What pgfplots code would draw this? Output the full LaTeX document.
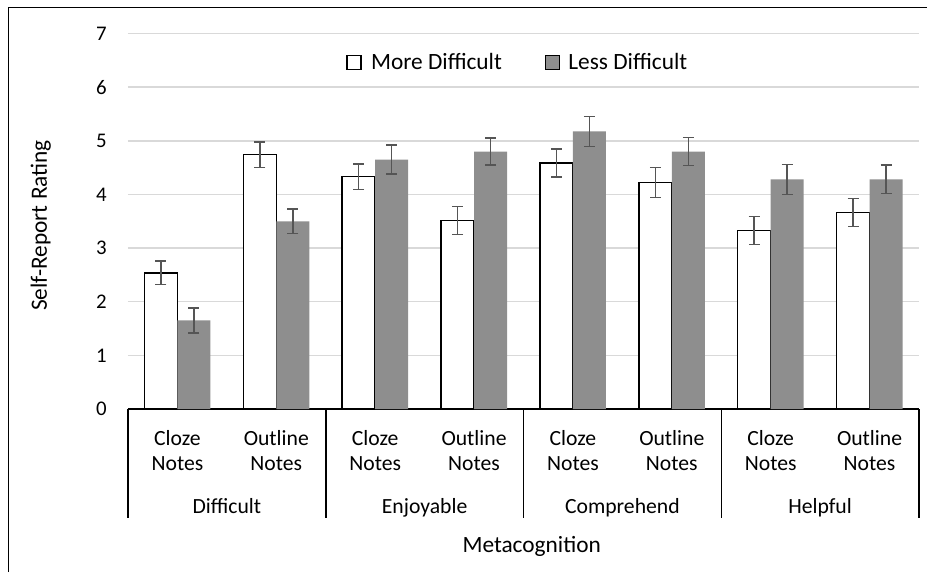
\documentclass[border=0pt]{standalone}
\usepackage{fontspec}
\setmainfont{Carlito}
\usepackage{pgfplots}
\pgfplotsset{compat=1.18}
\usetikzlibrary{calc}
\definecolor{bargray}{RGB}{142,142,142}
\definecolor{errgray}{RGB}{85,85,85}
\definecolor{gridgray}{RGB}{217,217,217}

\pgfplotstableread{
x y e
0 2.54 0.22
1 4.74 0.24
2 4.33 0.24
3 3.515 0.26
4 4.585 0.265
5 4.22 0.28
6 3.33 0.26
7 3.665 0.26
}\moredata
\pgfplotstableread{
x y e
0 1.65 0.23
1 3.50 0.23
2 4.65 0.27
3 4.80 0.25
4 5.175 0.28
5 4.80 0.26
6 4.28 0.28
7 4.28 0.265
}\lessdata

\begin{document}
\begin{tikzpicture}
\path[use as bounding box] (-76.8pt,-97.8pt) rectangle (479.4pt,245.4pt);
\draw[line width=0.6pt] (-71.4pt,-97.8pt) -- (-71.4pt,241pt) -- (479.4pt,241pt);
\begin{axis}[
  scale only axis, width=474.6pt, height=225.3pt,
  xmin=-0.5, xmax=7.5, ymin=0, ymax=7,
  ybar=0pt, bar width=19.8pt,
  axis x line*=bottom, axis y line*=left,
  y axis line style={draw=none},
  x axis line style={black, line width=0.9pt},
  major tick length=0pt,
  ytick={0,...,7},
  xtick={0,...,7},
  xticklabels={{Cloze\\Notes},{Outline\\Notes},{Cloze\\Notes},{Outline\\Notes},{Cloze\\Notes},{Outline\\Notes},{Cloze\\Notes},{Outline\\Notes}},
  ymajorgrids, grid style={gridgray, line width=0.9pt},
  /pgf/number format/assume math mode=true,
  yticklabel style={font=\fontsize{12.5}{14}\selectfont, anchor=east, inner sep=0pt, xshift=-12.6pt},
  xticklabel style={font=\fontsize{13}{15}\selectfont, align=center, anchor=north, inner sep=0pt, yshift=-12.5pt},
  clip=false,
  legend columns=2,
  legend style={draw=none, fill=none, at={(axis description cs:0.4937,0.9227)}, anchor=center,
    font=\fontsize{14}{16}\selectfont,
    /tikz/every odd column/.append style={column sep=3.5pt},
    /tikz/every even column/.append style={column sep=23.6pt}},
  legend image code/.code={\draw[#1] (0pt,-4.2pt) rectangle (8.4pt,4.2pt);},
]
\addplot[fill=white, draw=black, line width=0.9pt,
  error bars/.cd, y dir=both, y explicit,
  error bar style={errgray, line width=0.95pt},
  error mark options={rotate=90, errgray, line width=0.95pt, mark size=3.3pt}]
  table[x=x, y=y, y error=e] {\moredata};
\addlegendentry{More Difficult}
\addplot[fill=bargray, draw=none,
  error bars/.cd, y dir=both, y explicit,
  error bar style={errgray, line width=0.95pt},
  error mark options={rotate=90, errgray, line width=0.95pt, mark size=3.3pt}]
  table[x=x, y=y, y error=e] {\lessdata};
\addlegendentry{Less Difficult}
\pgfplotsinvokeforeach{-0.5,1.5,3.5,5.5,7.5}{
  \draw[black, line width=0.9pt] (axis cs:#1,0) -- ++(0pt,-65.6pt);
}
\node[anchor=base, font=\fontsize{13}{15}\selectfont, yshift=-62.6pt] at (axis cs:0.5,0) {Difficult};
\node[anchor=base, font=\fontsize{13}{15}\selectfont, yshift=-62.6pt] at (axis cs:2.5,0) {Enjoyable};
\node[anchor=base, font=\fontsize{13}{15}\selectfont, yshift=-62.6pt] at (axis cs:4.5,0) {Comprehend};
\node[anchor=base, font=\fontsize{13}{15}\selectfont, yshift=-62.6pt] at (axis cs:6.5,0) {Helpful};
\node[anchor=base, font=\fontsize{14}{16}\selectfont, yshift=-86.2pt] at (axis cs:3.583,0) {Metacognition};
\node[rotate=90, anchor=base, font=\fontsize{14}{16}\selectfont] at ($(rel axis cs:0,0.4887)+(-48.6pt,0pt)$) {Self-Report Rating};
\end{axis}
\end{tikzpicture}
\end{document}
